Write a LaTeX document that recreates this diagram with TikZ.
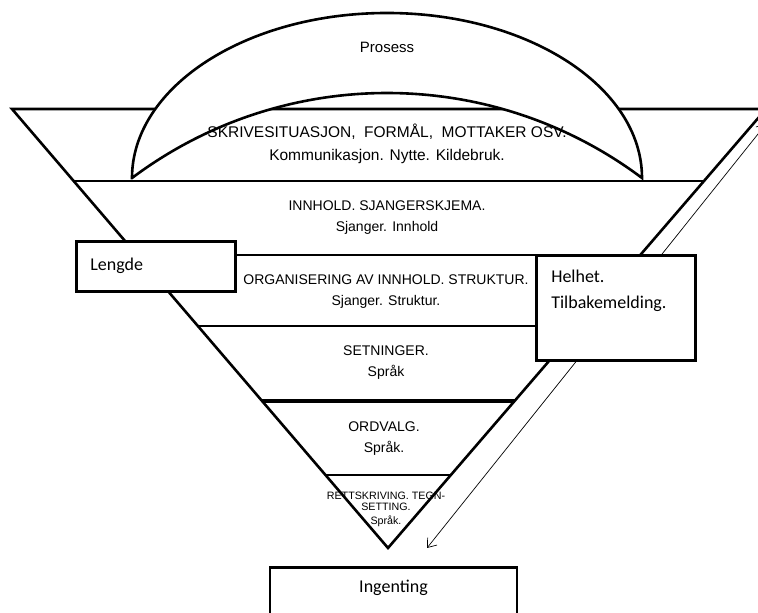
\documentclass[tikz,border=0pt]{standalone}
\usepackage{fontspec}
\setmainfont{Liberation Sans}
\newfontfamily\boxfont{Carlito}
\usetikzlibrary{calc,arrows.meta}

\begin{document}
\begin{tikzpicture}[x=1pt,y=1pt,
  >={Straight Barb[length=8pt,width=12pt]},
  level/.style={font=\fontsize{14}{21}\selectfont, align=center, inner sep=0pt},
  label box/.style={draw, line width=2.6pt, fill=white, font=\boxfont\fontsize{18}{26}\selectfont, align=left},
  edge/.style={line width=2.6pt}]
\clip (0,0) rectangle (758,613);
\coordinate (TL) at (12,504);
\coordinate (TR) at (766,504);
\coordinate (APEX) at (388,65);
\coordinate (UP) at (766,489);
\coordinate (DOWN) at (427,65);
\draw [<->, line width=0.7pt] (UP) to (DOWN);
\draw [edge, line join=miter] (TL) -- (TR) -- (APEX) -- cycle;
\foreach \t in {0.164,0.3326,0.4943,0.8337}
  \draw [edge] ($(TL)!\t!(APEX)$) -- ($(TR)!\t!(APEX)$);
\draw [line width=4.5pt] ($(TL)!0.6651!(APEX)$) -- ($(TR)!0.6651!(APEX)$);
\draw [edge, fill=white] (132,435) arc[start angle=180, end angle=0, x radius=255, y radius=165]
  arc[start angle=53.13, end angle=126.87, radius=425] -- cycle;
\node (PROSESS) at (387,566) {\fontsize{15}{17}\selectfont Prosess};
\node [level, font=\fontsize{15.5}{23}\selectfont] (SKRIVE) at (387,469.5) {SKRIVESITUASJON,\ \ FORMÅL,\ \ MOTTAKER OSV.\\Kommunikasjon. Nytte. Kildebruk.};
\node [level] (INNHOLD) at (387,395) {INNHOLD. SJANGERSKJEMA.\\Sjanger. Innhold};
\node [level] (ORG) at (386,321.5) {ORGANISERING AV INNHOLD. STRUKTUR.\\Sjanger. Struktur.};
\node [level] (SETN) at (386,250.5) {SETNINGER.\\Språk};
\node [level] (ORDVALG) at (384,174) {ORDVALG.\\Språk.};
\node [level, font=\fontsize{10.7}{11}\selectfont] (RETT) at (386,104) {RETTSKRIVING. TEGN-\\SETTING.\\[3pt]Språk.};
\node [label box, anchor=north west, text width=131pt, inner xsep=14pt, inner ysep=0pt, minimum height=50pt] (LENGDE) at (75,373) {Lengde};
\node [label box, anchor=north west, text width=129pt, inner xsep=15pt, inner ysep=14.5pt, text depth=64pt] (HELHET) at (535,359) {Helhet.\\Tilbakemelding.};
\node [label box, anchor=north, text width=217pt, align=center, inner xsep=15pt, inner ysep=12.5pt, text depth=40pt] (INGENTING) at (393.5,47) {Ingenting};
\end{tikzpicture}
\end{document}
